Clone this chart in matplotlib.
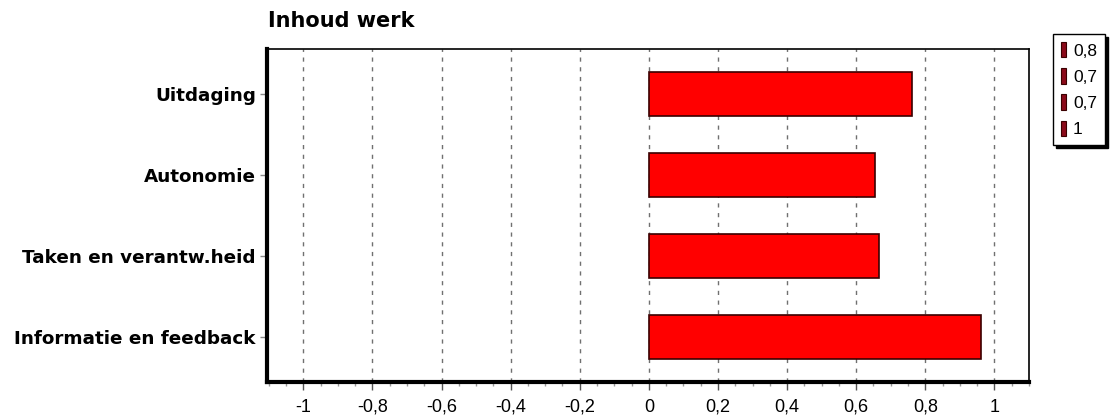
import matplotlib
matplotlib.use("Agg")
import matplotlib.pyplot as plt
from matplotlib.patches import Patch
from matplotlib.ticker import MultipleLocator, FuncFormatter

# data (top to bottom as shown)
categories = ["Uitdaging", "Autonomie", "Taken en verantw.heid", "Informatie en feedback"]
values = [0.76, 0.655, 0.667, 0.96]
title = "Inhoud werk"

fig = plt.figure(figsize=(11.15, 4.18), dpi=100)
ax = fig.add_axes([267 / 1115, 36 / 418, (1029 - 267) / 1115, (382 - 49) / 418])

ypos = list(range(len(categories)))[::-1]
ax.barh(ypos, values, height=0.54, color="#ff0000", edgecolor="#3a0000", linewidth=1.2, zorder=3)

ax.set_xlim(-1.105, 1.10)
ax.set_ylim(-0.55, 3.55)

# x axis: majors every 0.2, minors every 0.05, comma decimals
ax.xaxis.set_major_locator(MultipleLocator(0.2))
ax.xaxis.set_minor_locator(MultipleLocator(0.05))
ax.xaxis.set_major_formatter(FuncFormatter(lambda v, p: ("%g" % round(v, 2)).replace(".", ",")))
ax.tick_params(axis="x", which="major", length=6, width=1, color="#555555", pad=6,
               labelsize=13, labelfontfamily="Liberation Sans")
ax.tick_params(axis="x", which="minor", length=3, width=1, color="#999999")

ax.set_yticks(ypos)
ax.set_yticklabels(categories, fontsize=13.2, fontweight="bold", family="DejaVu Sans")
ax.tick_params(axis="y", length=5, width=1, color="#888888", pad=3)

ax.grid(axis="x", which="major", linestyle=(0, (3, 4)), color="#707070", linewidth=1, zorder=0)

for side in ["left", "bottom"]:
    ax.spines[side].set_linewidth(3)
for side in ["top", "right"]:
    ax.spines[side].set_linewidth(1.2)

fig.text(268 / 1115, 1 - 21 / 418, title, fontsize=15, fontweight="bold",
         family="DejaVu Sans", va="center", ha="left")

# legend: one entry per bar, rounded values
labels = [("%g" % round(v, 1)).replace(".", ",") for v in values]
handles = [Patch(facecolor="#8b0a1a", edgecolor="#3a0000", linewidth=0.8) for _ in values]
fig.legend(handles, labels, loc="upper left", bbox_to_anchor=(1053 / 1115, 1 - 34 / 418),
           frameon=True, fancybox=False, edgecolor="black", framealpha=1,
           shadow={"color": "black", "alpha": 1}, borderaxespad=0, borderpad=0.45,
           handlelength=0.3, handleheight=1.0, handletextpad=0.4, labelspacing=0.55,
           prop={"family": "Liberation Sans", "size": 12.5})

fig.savefig("out.png", dpi=100)
